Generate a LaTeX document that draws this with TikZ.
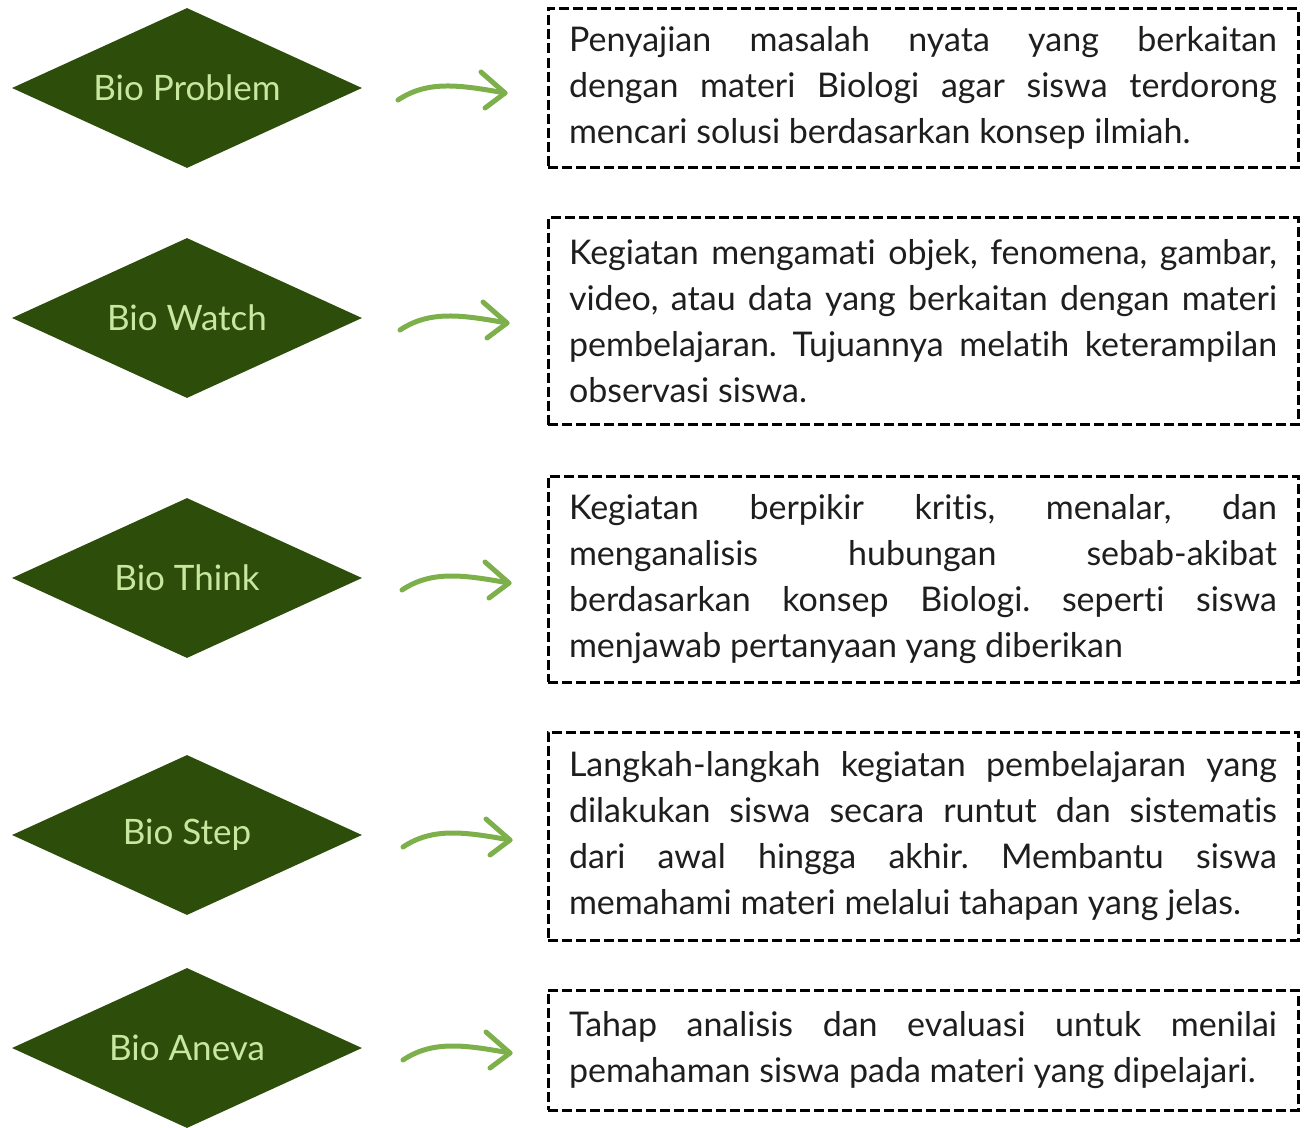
\documentclass[tikz,border=0pt]{standalone}
\usepackage{fontspec}
\setmainfont{Lato}[Ligatures=NoCommon]
\usetikzlibrary{shapes.geometric}
\definecolor{dgreen}{RGB}{45,78,10}
\definecolor{lgreen}{RGB}{200,232,160}
\definecolor{agreen}{RGB}{125,175,75}
\definecolor{txt}{RGB}{30,30,30}
\hyphenpenalty=10000
\exhyphenpenalty=10000
\frenchspacing
\tikzset{
 bio/.style={diamond, fill=dgreen, text=lgreen, minimum width=350pt, minimum height=160pt, aspect=2.1875, inner sep=0pt, font=\fontsize{35}{40}\selectfont},
 desc/.style={draw=black, dash pattern=on 10pt off 4pt, line width=3pt, minimum width=750pt, text width=708pt, inner xsep=21pt, align=justify, text=txt,
   font=\fontsize{34}{46}\selectfont},
 arr/.style={draw=agreen, line width=5pt, line cap=round, line join=round},
}
\begin{document}
\begin{tikzpicture}[x=1pt,y=-1pt]
\useasboundingbox (0,0) rectangle (1306,1127);
% diamonds
\node[bio] (d1) at (187,88) {Bio Problem};
\node[bio] (d2) at (187,318) {Bio Watch};
\node[bio] (d3) at (187,578) {Bio Think};
\node[bio] (d4) at (187,835) {Bio Step};
\node[bio] (d5) at (187,1048) {Bio Aneva};
% boxes
\node[desc, minimum height=159pt] (b1) at (923,88) {Penyajian masalah nyata yang berkaitan\linebreak dengan materi Biologi agar siswa terdorong\linebreak mencari solusi berdasarkan konsep ilmiah.};
\node[desc, minimum height=207pt] (b2) at (923,321) {Kegiatan mengamati objek, fenomena, gambar,\linebreak video, atau data yang berkaitan dengan materi\linebreak pembelajaran. Tujuannya melatih keterampilan\linebreak observasi siswa.};
\node[desc, minimum height=206pt] (b3) at (923,579) {Kegiatan berpikir kritis, menalar, dan\linebreak menganalisis hubungan sebab-akibat\linebreak berdasarkan konsep Biologi. seperti siswa\linebreak menjawab pertanyaan yang diberikan};
\node[desc, minimum height=208pt] (b4) at (923,836) {Langkah-langkah kegiatan pembelajaran yang\linebreak dilakukan siswa secara runtut dan sistematis\linebreak dari awal hingga akhir. Membantu siswa\linebreak memahami materi melalui tahapan yang jelas.};
\node[desc, minimum height=120pt] (b5) at (923,1050) {Tahap analisis dan evaluasi untuk menilai\linebreak pemahaman siswa pada materi yang dipelajari.};
% arrows
\foreach \i/\cy/\dx in {1/88/0, 2/318/2, 3/578/4, 4/835/5, 5/1048/5} {
  \coordinate (s\i) at (398+\dx,\cy+12);
  \coordinate (e\i) at (505+\dx,\cy+5);
  \draw[arr] (s\i) .. controls ([xshift=30pt,yshift=20pt]s\i) and ([xshift=-45pt,yshift=8pt]e\i) .. (e\i);
  \draw[arr] ([xshift=-24pt,yshift=21pt]e\i) -- (e\i) -- ([xshift=-20pt,yshift=-15pt]e\i);
}
\end{tikzpicture}
\end{document}
